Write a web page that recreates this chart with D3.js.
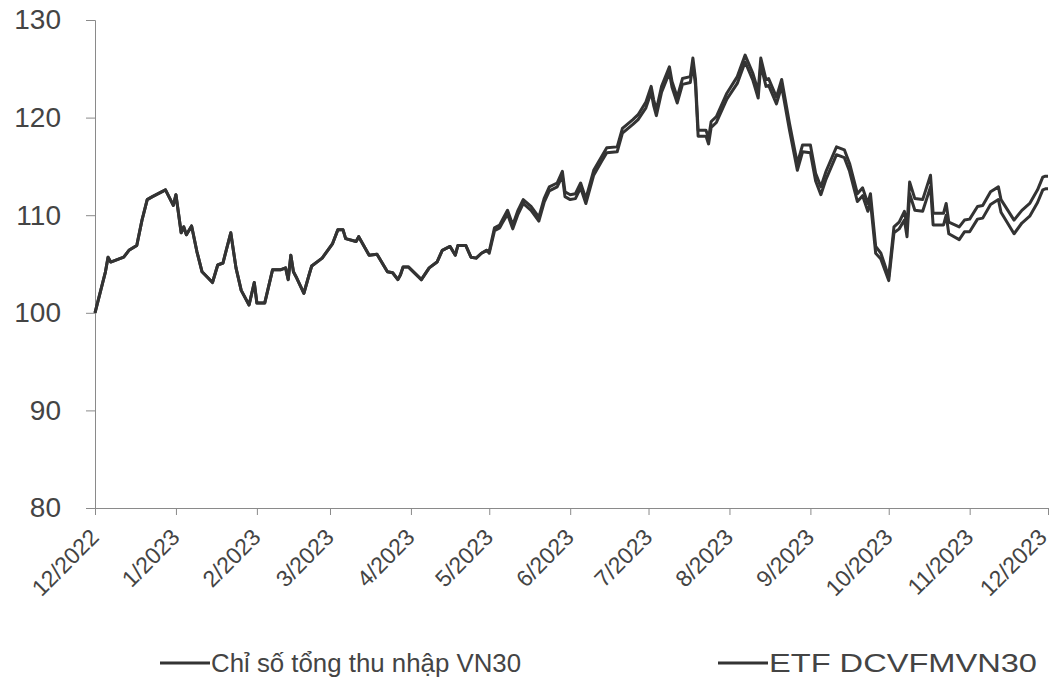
<!DOCTYPE html>
<html>
<head>
<meta charset="utf-8">
<script src="https://cdn.jsdelivr.net/npm/d3@7"></script>
<style>
    body { margin: 0; background: #fff; }
    svg { display: block; font-family: "Liberation Sans", Arial, sans-serif; }
</style>
</head>
<body>
<svg id="chart" width="1054" height="683"></svg>
<script>
// trading days
const dates = [
    '2022-12-01','2022-12-05','2022-12-06','2022-12-07','2022-12-12','2022-12-14','2022-12-17','2022-12-19','2022-12-21','2022-12-23',
    '2022-12-28','2022-12-31','2023-01-01','2023-01-03','2023-01-04','2023-01-05','2023-01-07','2023-01-09','2023-01-11','2023-01-15',
    '2023-01-17','2023-01-19','2023-01-22','2023-01-24','2023-01-26','2023-01-29','2023-01-31','2023-02-01','2023-02-04','2023-02-07',
    '2023-02-10','2023-02-12','2023-02-13','2023-02-14','2023-02-15','2023-02-16','2023-02-19','2023-02-21','2023-02-22','2023-02-26',
    '2023-03-02','2023-03-04','2023-03-06','2023-03-07','2023-03-11','2023-03-12','2023-03-16','2023-03-19','2023-03-23','2023-03-25',
    '2023-03-27','2023-03-28','2023-03-29','2023-03-31','2023-04-05','2023-04-08','2023-04-11','2023-04-13','2023-04-16','2023-04-18',
    '2023-04-19','2023-04-22','2023-04-24','2023-04-26','2023-04-28','2023-04-30','2023-05-01','2023-05-03','2023-05-05','2023-05-06',
    '2023-05-08','2023-05-10','2023-05-12','2023-05-14','2023-05-17','2023-05-20','2023-05-22','2023-05-24','2023-05-27','2023-05-29',
    '2023-05-30','2023-06-01','2023-06-03','2023-06-05','2023-06-07','2023-06-10','2023-06-13','2023-06-15','2023-06-19','2023-06-21',
    '2023-06-25','2023-06-27','2023-06-30','2023-07-02','2023-07-03','2023-07-04','2023-07-06','2023-07-09','2023-07-10','2023-07-12',
    '2023-07-14','2023-07-17','2023-07-18','2023-07-19','2023-07-20','2023-07-23','2023-07-24','2023-07-25','2023-07-27','2023-07-31',
    '2023-08-04','2023-08-07','2023-08-10','2023-08-12','2023-08-13','2023-08-15','2023-08-16','2023-08-19','2023-08-21','2023-08-24',
    '2023-08-27','2023-08-29','2023-09-01','2023-09-03','2023-09-05','2023-09-07','2023-09-11','2023-09-14','2023-09-16','2023-09-19',
    '2023-09-21','2023-09-23','2023-09-24','2023-09-26','2023-09-28','2023-10-01','2023-10-03','2023-10-05','2023-10-07','2023-10-08',
    '2023-10-09','2023-10-11','2023-10-14','2023-10-17','2023-10-18','2023-10-22','2023-10-23','2023-10-24','2023-10-28','2023-10-30',
    '2023-11-01','2023-11-04','2023-11-06','2023-11-09','2023-11-12','2023-11-13','2023-11-18','2023-11-21','2023-11-24','2023-11-27',
    '2023-11-29','2023-11-30','2023-12-01'
];

const vn30Total = [
    100.0,104.2,105.7,105.2,105.7,106.4,106.9,109.5,111.6,111.9,
    112.6,111.0,112.1,108.2,108.8,108.0,108.9,106.3,104.2,103.1,
    104.9,105.1,108.2,104.6,102.3,100.8,103.1,101.0,101.0,104.4,
    104.4,104.6,103.4,105.9,104.2,103.7,102.0,103.9,104.8,105.6,
    107.1,108.5,108.5,107.6,107.3,107.8,105.9,106.0,104.2,104.1,
    103.4,103.9,104.7,104.7,103.4,104.6,105.2,106.4,106.8,105.9,
    106.9,106.9,105.7,105.6,106.1,106.4,106.3,108.7,109.0,109.5,
    110.5,109.0,110.5,111.6,110.9,109.8,111.7,112.9,113.3,114.5,
    112.4,112.1,112.2,113.3,111.7,114.6,116.0,116.9,117.0,118.9,
    119.8,120.3,121.6,123.2,121.8,120.8,123.2,125.2,123.7,122.1,
    124.0,124.2,126.1,123.9,118.7,118.7,117.9,119.6,120.1,122.5,
    124.2,126.4,124.5,122.7,126.1,123.9,124.0,122.1,123.9,119.4,
    115.3,117.2,117.2,114.3,112.9,114.5,117.0,116.7,115.3,112.2,
    112.8,111.2,112.2,106.8,106.1,103.7,108.8,109.3,110.4,108.8,
    113.4,111.7,111.6,114.1,110.2,110.2,111.2,109.3,108.8,109.5,
    109.6,110.9,111.0,112.4,112.9,111.6,109.5,110.5,111.2,112.6,
    113.9,114.0,114.0
];

const etfDcvfm = [
    100.0,104.2,105.7,105.2,105.7,106.4,106.9,109.5,111.6,111.9,
    112.6,111.0,112.1,108.2,108.8,108.0,108.9,106.3,104.2,103.1,
    104.9,105.1,108.2,104.6,102.3,100.8,103.1,101.0,101.0,104.4,
    104.4,104.6,103.4,105.9,104.2,103.7,102.0,103.9,104.8,105.6,
    107.1,108.5,108.5,107.6,107.3,107.8,105.9,106.0,104.2,104.1,
    103.4,103.9,104.7,104.7,103.4,104.6,105.2,106.4,106.8,105.9,
    106.9,106.9,105.7,105.6,106.1,106.4,106.1,108.4,108.7,109.2,
    110.1,108.6,110.1,111.2,110.5,109.4,111.3,112.5,112.9,114.0,
    111.9,111.6,111.7,112.8,111.2,114.1,115.5,116.4,116.5,118.4,
    119.3,119.8,121.0,122.6,121.2,120.2,122.6,124.6,123.1,121.5,
    123.4,123.6,125.5,123.3,118.1,118.1,117.3,119.0,119.5,121.9,
    123.5,125.7,123.8,122.0,125.4,123.2,123.3,121.4,123.2,118.7,
    114.6,116.5,116.4,113.5,112.1,113.7,116.2,115.9,114.5,111.4,
    112.0,110.4,111.4,106.1,105.5,103.3,108.2,108.6,109.5,107.8,
    112.2,110.5,110.4,112.9,109.0,109.0,110.0,108.1,107.5,108.3,
    108.3,109.6,109.7,111.1,111.6,110.3,108.1,109.2,109.9,111.3,
    112.6,112.7,112.7
];

const seriesNames = ['Chỉ số tổng thu nhập VN30', 'ETF DCVFMVN30'];
const yTicks = [80, 90, 100, 110, 120, 130];

const parse = d3.timeParse('%Y-%m-%d');
const days = dates.map(parse);

const svg = d3.select('#chart');
const margin = { top: 20, right: 6, bottom: 175, left: 95 };
const width = 1054 - margin.left - margin.right;
const height = 683 - margin.top - margin.bottom;

const x = d3.scaleTime()
    .domain([parse('2022-12-01'), parse('2023-12-01')])
    .range([0, width]);

const y = d3.scaleLinear()
    .domain([80, 130])
    .range([height, 0]);

const chart = svg.append('g')
    .attr('transform', `translate(${margin.left},${margin.top})`);

// y axis
const yAxis = chart.append('g')
    .call(d3.axisLeft(y).tickValues(yTicks).tickSize(9).tickPadding(25));
yAxis.select('.domain').attr('stroke', '#8a8a8a');
yAxis.selectAll('.tick line').attr('stroke', '#8a8a8a');
yAxis.selectAll('.tick text')
    .attr('fill', '#444')
    .style('font-size', '28px');

// x axis, monthly ticks, labels slanted
const xAxis = chart.append('g')
    .attr('transform', `translate(0,${height})`)
    .call(d3.axisBottom(x)
        .ticks(d3.timeMonth.every(1))
        .tickFormat(d3.timeFormat('%-m/%Y'))
        .tickSize(7));
xAxis.select('.domain').attr('stroke', '#8a8a8a');
xAxis.selectAll('.tick line').attr('stroke', '#8a8a8a');
const nTicks = xAxis.selectAll('.tick').size();
xAxis.selectAll('.tick text')
    .attr('fill', '#444')
    .style('font-size', '23px')
    .attr('text-anchor', 'end')
    .attr('x', 0)
    .attr('y', 0)
    .attr('dy', '0.35em')
    // last label nudged left so it stays inside the page
    .attr('transform', (d, i) => i === nTicks - 1 ? 'translate(-6,25) rotate(-45)' : 'translate(-1,25) rotate(-45)');

const line = d3.line()
    .x((d, i) => x(days[i]))
    .y(d => y(d));

[vn30Total, etfDcvfm].forEach(vals => {
    chart.append('path')
        .datum(vals)
        .attr('fill', 'none')
        .attr('stroke', '#333')
        .attr('stroke-width', 3)
        .attr('stroke-linejoin', 'round')
        .attr('d', line);
});

// legend
const legendX = [160, 718];
const legendLen = [310, 268];
const legend = svg.selectAll('.legend')
    .data(seriesNames)
    .enter().append('g')
    .attr('class', 'legend')
    .attr('transform', (d, i) => `translate(${legendX[i]},663)`);

legend.append('line')
    .attr('x1', 0).attr('x2', 50)
    .attr('stroke', '#333')
    .attr('stroke-width', 3);

legend.append('text')
    .attr('x', 51)
    .attr('dy', '0.35em')
    .attr('fill', '#444')
    .style('font-size', '26px')
    .attr('textLength', (d, i) => legendLen[i])
    .attr('lengthAdjust', 'spacingAndGlyphs')
    .text(d => d);
</script>
</body>
</html>
